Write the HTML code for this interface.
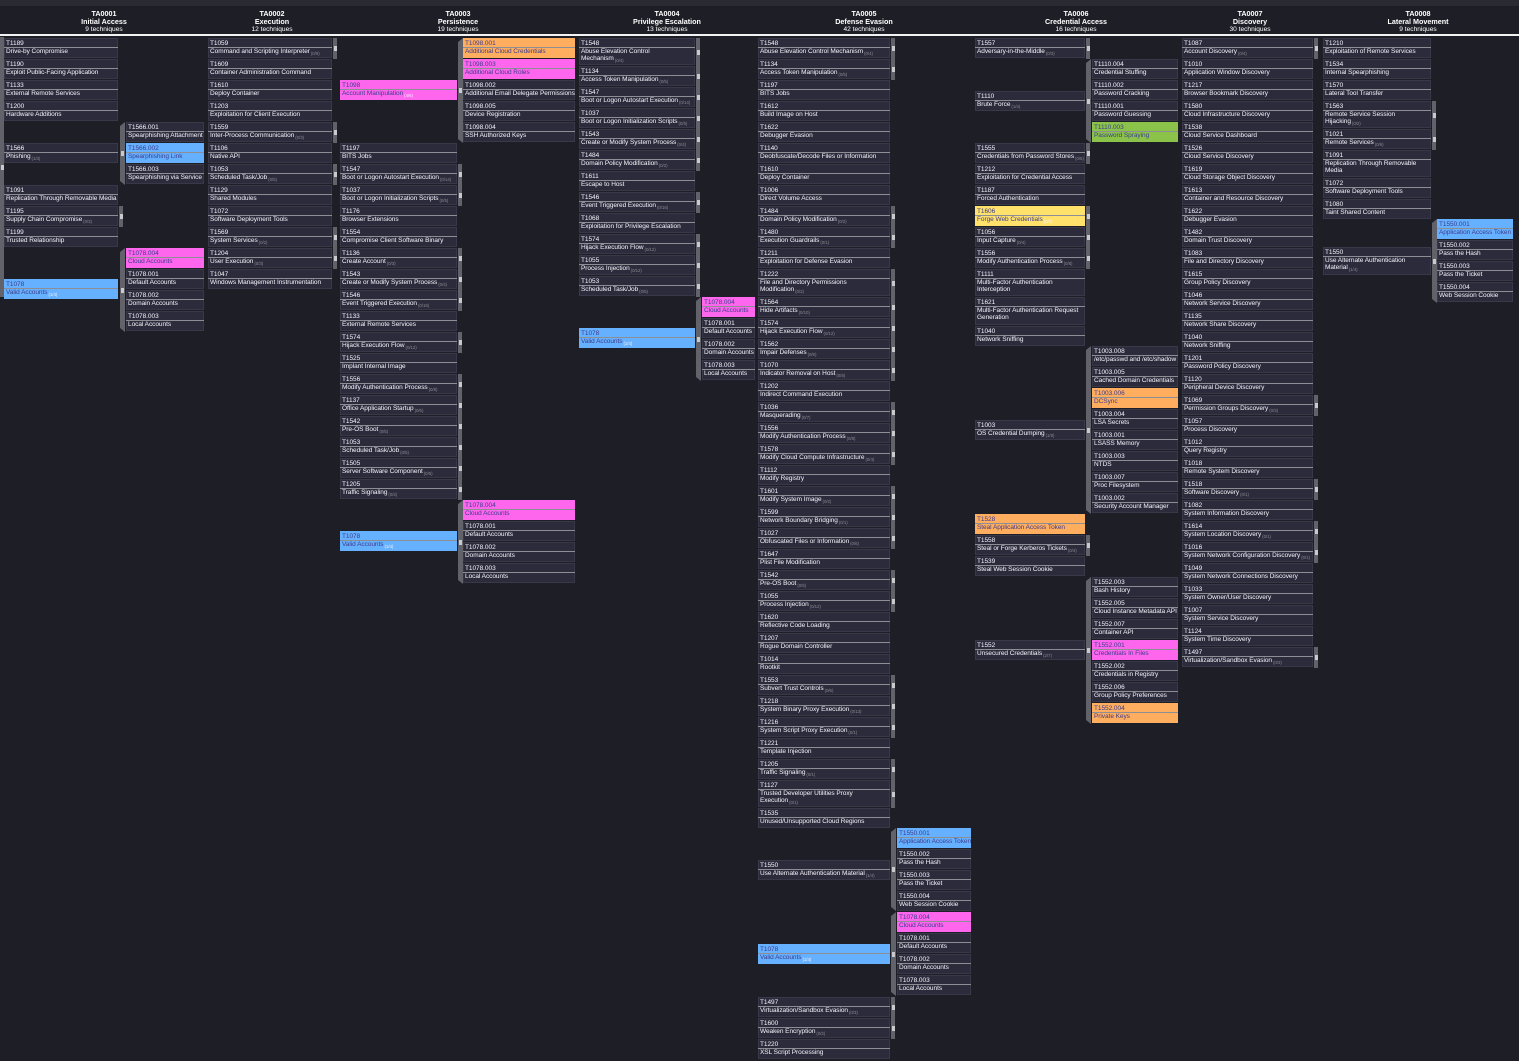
<!DOCTYPE html>
<html><head><meta charset="utf-8">
<style>
html,body{margin:0;padding:0;background:#1e1e27;width:1519px;height:1061px;overflow:hidden;position:relative;font-family:"Liberation Sans",sans-serif}
.top{position:absolute;left:0;top:0;width:1519px;height:6px;background:#2a2a33}
.hl{position:absolute;left:0;top:34px;width:1519px;height:2px;background:#f2f2f2}
.h{position:absolute;top:10px;width:200px;text-align:center;color:#fff;font-size:7.2px;line-height:7.6px}
.h b{display:block}
.h span{font-weight:normal;font-size:6.6px}
.c{position:absolute;background:#2c2b3c;box-shadow:inset 0 0 0 1px #393849;color:#f4f3fa;font-size:6.5px;line-height:7.2px;overflow:hidden;box-sizing:border-box;letter-spacing:-0.05px}
.c i{display:block;font-style:normal;padding:1.5px 0 0 2px;height:7px;border-bottom:1.5px solid #8d8d94}
.c div{padding:0 1px 0 2px;white-space:nowrap}
.c small{font-size:4.4px;color:#8a8a90;margin-left:1px;vertical-align:-2px}
.c.col{color:#3c3c8c;box-shadow:none}
.c.col small{color:#f4f4ff}
.g{position:absolute;background:#62626b}
.g:after{content:"";position:absolute;left:1px;width:2.5px;height:5px;background:#c9c9ce;top:50%;margin-top:-2.5px}
</style></head><body>
<div class="top"></div>
<div class="hl"></div>
<div class="h" style="left:4px"><b>TA0001<br>Initial Access</b><span>9 techniques</span></div>
<div class="h" style="left:172px"><b>TA0002<br>Execution</b><span>12 techniques</span></div>
<div class="h" style="left:358px"><b>TA0003<br>Persistence</b><span>19 techniques</span></div>
<div class="h" style="left:567px"><b>TA0004<br>Privilege Escalation</b><span>13 techniques</span></div>
<div class="h" style="left:764px"><b>TA0005<br>Defense Evasion</b><span>42 techniques</span></div>
<div class="h" style="left:976px"><b>TA0006<br>Credential Access</b><span>16 techniques</span></div>
<div class="h" style="left:1150px"><b>TA0007<br>Discovery</b><span>30 techniques</span></div>
<div class="h" style="left:1318px"><b>TA0008<br>Lateral Movement</b><span>9 techniques</span></div>
<div id="root"></div>
<script>
var C={o:"#ffad5f",p:"#ff66ee",b:"#66b1ff",g:"#8bc34a",y:"#ffe16b"};
var out="";
function col(x,w,list){
 list.forEach(function(s){
  var a=s.split("|");var t=+a[0],id=a[1],nm=a[2].replace("~","<br>"),cnt=a[3]||"",c=a[4]||"",h=+(a[5]||20),f=a[6]||"";
  var st="left:"+x+"px;top:"+t+"px;width:"+w+"px;height:"+h+"px;";
  if(c&&C[c])st+="background:"+C[c]+";";
  out+='<div class="c'+(c&&C[c]?' col':'')+'" style="'+st+'"><i>'+id+'</i><div>'+nm+(cnt?'<small>('+cnt+')</small>':'')+'</div></div>';
  if(cnt&&f!="x")out+='<div class="g" style="left:'+(x+w+1)+'px;top:'+t+'px;width:4px;height:'+(h+1)+'px"></div>';
 });
}
function gb(x,t,b){out+='<div class="g" style="left:'+x+'px;top:'+t+'px;width:5px;height:'+(b-t)+'px;clip-path:polygon(0 4px,100% 0,100% 100%,0 calc(100% - 4px))"></div>';}
col(4,114,["38|T1189|Drive-by Compromise","59|T1190|Exploit Public-Facing Application","80|T1133|External Remote Services","101|T1200|Hardware Additions","143|T1566|Phishing|1/3||20|x","185|T1091|Replication Through Removable Media","206|T1195|Supply Chain Compromise|0/3","227|T1199|Trusted Relationship","279|T1078|Valid Accounts|1/4|b|20|x"]);
col(126,78,["122|T1566.001|Spearphishing Attachment","143|T1566.002|Spearphishing Link||b","164|T1566.003|Spearphishing via Service","248|T1078.004|Cloud Accounts||p","269|T1078.001|Default Accounts","290|T1078.002|Domain Accounts","311|T1078.003|Local Accounts"]);
gb(120,122,185);gb(120,248,332);
col(208,124,["38|T1059|Command and Scripting Interpreter|0/9","59|T1609|Container Administration Command","80|T1610|Deploy Container","101|T1203|Exploitation for Client Execution","122|T1559|Inter-Process Communication|0/3","143|T1106|Native API","164|T1053|Scheduled Task/Job|0/5","185|T1129|Shared Modules","206|T1072|Software Deployment Tools","227|T1569|System Services|0/2","248|T1204|User Execution|0/3","269|T1047|Windows Management Instrumentation"]);
col(340,117,["80|T1098|Account Manipulation|4/6|p|20|x","143|T1197|BITS Jobs","164|T1547|Boot or Logon Autostart Execution|0/14","185|T1037|Boot or Logon Initialization Scripts|0/5","206|T1176|Browser Extensions","227|T1554|Compromise Client Software Binary","248|T1136|Create Account|0/3","269|T1543|Create or Modify System Process|0/4","290|T1546|Event Triggered Execution|0/16","311|T1133|External Remote Services","332|T1574|Hijack Execution Flow|0/12","353|T1525|Implant Internal Image","374|T1556|Modify Authentication Process|0/8","395|T1137|Office Application Startup|0/6","416|T1542|Pre-OS Boot|0/5","437|T1053|Scheduled Task/Job|0/5","458|T1505|Server Software Component|0/5","479|T1205|Traffic Signaling|0/2","531|T1078|Valid Accounts|1/4|b|20|x"]);
col(463,112,["38|T1098.001|Additional Cloud Credentials||o","59|T1098.003|Additional Cloud Roles||p","80|T1098.002|Additional Email Delegate Permissions","101|T1098.005|Device Registration","122|T1098.004|SSH Authorized Keys","500|T1078.004|Cloud Accounts||p","521|T1078.001|Default Accounts","542|T1078.002|Domain Accounts","563|T1078.003|Local Accounts"]);
gb(458,38,143);gb(458,500,584);
col(579,116,["38|T1548|Abuse Elevation Control~Mechanism|0/4||27","66|T1134|Access Token Manipulation|0/5","87|T1547|Boot or Logon Autostart Execution|0/14","108|T1037|Boot or Logon Initialization Scripts|0/5","129|T1543|Create or Modify System Process|0/4","150|T1484|Domain Policy Modification|0/2","171|T1611|Escape to Host","192|T1546|Event Triggered Execution|0/16","213|T1068|Exploitation for Privilege Escalation","234|T1574|Hijack Execution Flow|0/12","255|T1055|Process Injection|0/12","276|T1053|Scheduled Task/Job|0/5","328|T1078|Valid Accounts|1/4|b|20|x"]);
col(702,53,["297|T1078.004|Cloud Accounts||p","318|T1078.001|Default Accounts","339|T1078.002|Domain Accounts","360|T1078.003|Local Accounts"]);
gb(696,297,381);
col(758,132,["38|T1548|Abuse Elevation Control Mechanism|0/4","59|T1134|Access Token Manipulation|0/5","80|T1197|BITS Jobs","101|T1612|Build Image on Host","122|T1622|Debugger Evasion","143|T1140|Deobfuscate/Decode Files or Information","164|T1610|Deploy Container","185|T1006|Direct Volume Access","206|T1484|Domain Policy Modification|0/2","227|T1480|Execution Guardrails|0/1","248|T1211|Exploitation for Defense Evasion","269|T1222|File and Directory Permissions~Modification|0/2||27","297|T1564|Hide Artifacts|0/10","318|T1574|Hijack Execution Flow|0/12","339|T1562|Impair Defenses|0/9","360|T1070|Indicator Removal on Host|0/8","381|T1202|Indirect Command Execution","402|T1036|Masquerading|0/7","423|T1556|Modify Authentication Process|0/8","444|T1578|Modify Cloud Compute Infrastructure|0/4","465|T1112|Modify Registry","486|T1601|Modify System Image|0/2","507|T1599|Network Boundary Bridging|0/1","528|T1027|Obfuscated Files or Information|0/6","549|T1647|Plist File Modification","570|T1542|Pre-OS Boot|0/5","591|T1055|Process Injection|0/12","612|T1620|Reflective Code Loading","633|T1207|Rogue Domain Controller","654|T1014|Rootkit","675|T1553|Subvert Trust Controls|0/6","696|T1218|System Binary Proxy Execution|0/13","717|T1216|System Script Proxy Execution|0/1","738|T1221|Template Injection","759|T1205|Traffic Signaling|0/1","780|T1127|Trusted Developer Utilities Proxy~Execution|0/1||27","808|T1535|Unused/Unsupported Cloud Regions","860|T1550|Use Alternate Authentication Material|1/4||20|x","944|T1078|Valid Accounts|1/4|b|20|x","997|T1497|Virtualization/Sandbox Evasion|0/3","1018|T1600|Weaken Encryption|0/2","1039|T1220|XSL Script Processing"]);
col(897,74,["828|T1550.001|Application Access Token||b","849|T1550.002|Pass the Hash","870|T1550.003|Pass the Ticket","891|T1550.004|Web Session Cookie","912|T1078.004|Cloud Accounts||p","933|T1078.001|Default Accounts","954|T1078.002|Domain Accounts","975|T1078.003|Local Accounts"]);
gb(891,828,911);gb(891,912,996);
col(975,110,["38|T1557|Adversary-in-the-Middle|0/3","91|T1110|Brute Force|1/4||20|x","143|T1555|Credentials from Password Stores|0/5","164|T1212|Exploitation for Credential Access","185|T1187|Forced Authentication","206|T1606|Forge Web Credentials|0/2|y","227|T1056|Input Capture|0/4","248|T1556|Modify Authentication Process|0/8","269|T1111|Multi-Factor Authentication~Interception|||27","297|T1621|Multi-Factor Authentication Request~Generation|||28","326|T1040|Network Sniffing","420|T1003|OS Credential Dumping|1/8||20|x","514|T1528|Steal Application Access Token||o","535|T1558|Steal or Forge Kerberos Tickets|0/4","556|T1539|Steal Web Session Cookie","640|T1552|Unsecured Credentials|2/7||20|x"]);
col(1092,86,["59|T1110.004|Credential Stuffing","80|T1110.002|Password Cracking","101|T1110.001|Password Guessing","122|T1110.003|Password Spraying||g","346|T1003.008|/etc/passwd and /etc/shadow","367|T1003.005|Cached Domain Credentials","388|T1003.006|DCSync||o","409|T1003.004|LSA Secrets","430|T1003.001|LSASS Memory","451|T1003.003|NTDS","472|T1003.007|Proc Filesystem","493|T1003.002|Security Account Manager","577|T1552.003|Bash History","598|T1552.005|Cloud Instance Metadata API","619|T1552.007|Container API","640|T1552.001|Credentials In Files||p","661|T1552.002|Credentials in Registry","682|T1552.006|Group Policy Preferences","703|T1552.004|Private Keys||o"]);
gb(1086,59,143);gb(1086,346,514);gb(1086,577,724);
var d=["Account Discovery|T1087|0/4","Application Window Discovery|T1010","Browser Bookmark Discovery|T1217","Cloud Infrastructure Discovery|T1580","Cloud Service Dashboard|T1538","Cloud Service Discovery|T1526","Cloud Storage Object Discovery|T1619","Container and Resource Discovery|T1613","Debugger Evasion|T1622","Domain Trust Discovery|T1482","File and Directory Discovery|T1083","Group Policy Discovery|T1615","Network Service Discovery|T1046","Network Share Discovery|T1135","Network Sniffing|T1040","Password Policy Discovery|T1201","Peripheral Device Discovery|T1120","Permission Groups Discovery|T1069|0/3","Process Discovery|T1057","Query Registry|T1012","Remote System Discovery|T1018","Software Discovery|T1518|0/1","System Information Discovery|T1082","System Location Discovery|T1614|0/1","System Network Configuration Discovery|T1016|0/1","System Network Connections Discovery|T1049","System Owner/User Discovery|T1033","System Service Discovery|T1007","System Time Discovery|T1124","Virtualization/Sandbox Evasion|T1497|0/3"];
col(1182,131,d.map(function(s,i){var a=s.split("|");return (38+21*i)+"|"+a[1]+"|"+a[0]+"|"+(a[2]||"");}));
col(1323,108,["38|T1210|Exploitation of Remote Services","59|T1534|Internal Spearphishing","80|T1570|Lateral Tool Transfer","101|T1563|Remote Service Session~Hijacking|0/2||27","129|T1021|Remote Services|0/6","150|T1091|Replication Through Removable~Media|||27","178|T1072|Software Deployment Tools","199|T1080|Taint Shared Content","247|T1550|Use Alternate Authentication~Material|1/4||28|x"]);
col(1437,76,["219|T1550.001|Application Access Token||b","240|T1550.002|Pass the Hash","261|T1550.003|Pass the Ticket","282|T1550.004|Web Session Cookie"]);
gb(1432,219,303);
out+='<div class="g" style="left:0;top:37px;width:4px;height:260px"></div>';
document.getElementById("root").innerHTML=out;
</script>
</body></html>
